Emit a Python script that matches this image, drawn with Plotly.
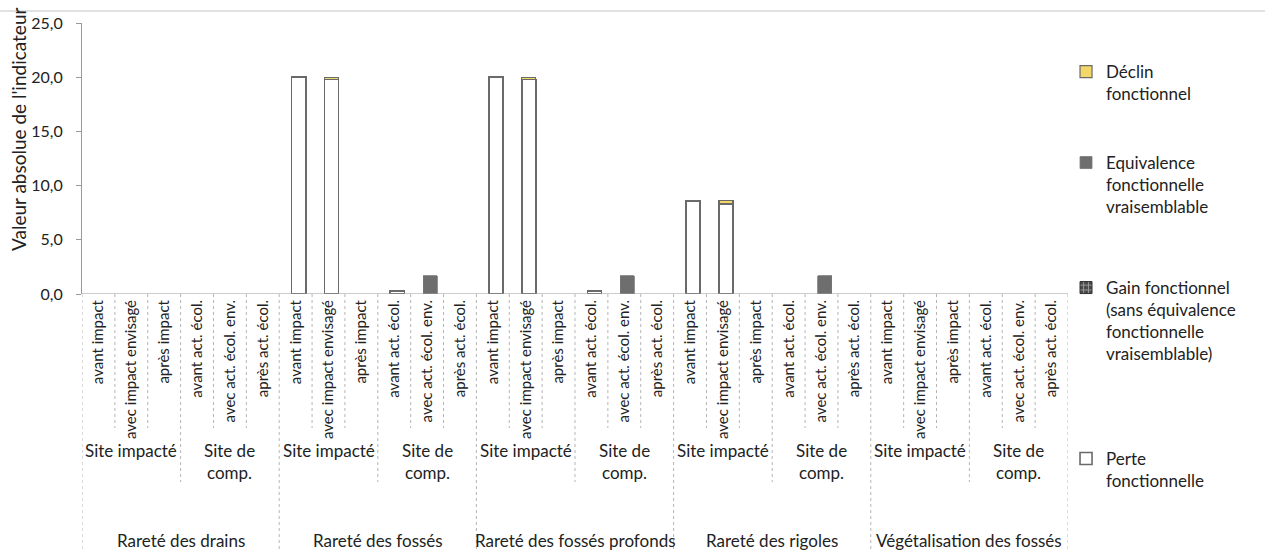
import plotly.graph_objects as go

# --- data -------------------------------------------------------------
groups = ["Rareté des drains", "Rareté des fossés", "Rareté des fossés profonds",
          "Rareté des rigoles", "Végétalisation des fossés"]
subgroups = ["Site impacté", "Site de<br>comp."]
steps_impact = ["avant impact", "avec impact envisagé", "après impact"]
steps_comp = ["avant act. écol.", "avec act. écol. env.", "après act. écol."]

# one row of 6 values per indicator (3 impacted-site steps, 3 compensation-site steps)
perte = [
    [None, None, None, None, None, None],
    [20.0, 19.8, None, 0.3, None, None],
    [20.0, 19.8, None, 0.3, None, None],
    [8.6, 8.3, None, None, None, None],
    [None, None, None, None, None, None],
]
gain = [
    [None] * 6,
    [None] * 6,
    [None] * 6,
    [None] * 6,
    [None] * 6,
]
equivalence = [
    [None, None, None, None, None, None],
    [None, None, None, None, 1.7, None],
    [None, None, None, None, 1.7, None],
    [None, None, None, None, 1.7, None],
    [None, None, None, None, None, None],
]
declin = [
    [None, None, None, None, None, None],
    [None, 0.2, None, None, None, None],
    [None, 0.2, None, None, None, None],
    [None, 0.3, None, None, None, None],
    [None, None, None, None, None, None],
]

y_ticks = [0, 5, 10, 15, 20, 25]

# --- flatten to 30 categories ------------------------------------------
labels = []
for g in groups:
    labels += steps_impact + steps_comp
xs = list(range(len(labels)))


def flat(rows):
    out = []
    for r in rows:
        out += r
    return out


FONT = "Lato, 'Open Sans', sans-serif"
TXT = "#222222"
FS = 17
BAR_W = 0.43
BAR_OFF = -0.12

fig = go.Figure()

fig.add_bar(x=xs, y=flat(perte), name="Perte<br>fonctionnelle",
            width=BAR_W, offset=BAR_OFF, showlegend=True,
            marker=dict(color="white", line=dict(color="#6a6a6a", width=1.6)),
            legend="legend4")
fig.add_bar(x=xs, y=flat(gain), name="Gain fonctionnel<br>(sans équivalence<br>fonctionnelle<br>vraisemblable)",
            width=BAR_W, offset=BAR_OFF, showlegend=True,
            marker=dict(color="#555555", line=dict(color="#333333", width=1),
                        pattern=dict(shape="+", fgcolor="#f2f2f2", bgcolor="#4a4a4a", size=6, solidity=0.35)),
            legend="legend3")
fig.add_bar(x=xs, y=flat(equivalence), name="Equivalence<br>fonctionnelle<br>vraisemblable",
            width=BAR_W, offset=BAR_OFF, showlegend=True,
            marker=dict(color="#6e6e6e", line=dict(color="#777777", width=0.8)),
            legend="legend2")
fig.add_bar(x=xs, y=flat(declin), name="Déclin<br>fonctionnel",
            width=BAR_W, offset=BAR_OFF, showlegend=True,
            marker=dict(color="#f3d768", line=dict(color="#6a6a6a", width=1.2)),
            legend="legend")

# --- category hierarchy below the axis ---------------------------------
PLOT_TOP, PLOT_BOT = 23, 294
PH = PLOT_BOT - PLOT_TOP


def py(px):
    """pixel row -> paper y"""
    return (PLOT_BOT - px) / PH


shapes = []
annotations = []
sep_style = dict(color="#b5b5b5", width=1, dash="dot")
for i in range(len(labels) + 1):
    xb = i - 0.5
    if i % 6 == 0:
        bottom = 551
    elif i % 3 == 0:
        bottom = 482
    else:
        bottom = 428
    shapes.append(dict(type="line", xref="x", yref="paper", x0=xb, x1=xb,
                       y0=0, y1=py(bottom), line=sep_style))

for gi, g in enumerate(groups):
    for si, s in enumerate(subgroups):
        c = gi * 6 + si * 3 + 1
        annotations.append(dict(x=c, y=py(438), xref="x", yref="paper", text=s,
                                showarrow=False, yanchor="top", xanchor="center",
                                font=dict(family=FONT, size=FS, color=TXT)))
    annotations.append(dict(x=gi * 6 + 2.5, y=py(540), xref="x", yref="paper", text=g,
                            showarrow=False, yanchor="middle", xanchor="center",
                            font=dict(family=FONT, size=FS, color=TXT)))

annotations.append(dict(x=(18 - 82) / 986, y=py(130), xref="paper", yref="paper",
                        text="Valeur absolue de l'indicateur", textangle=-90,
                        showarrow=False, xanchor="center", yanchor="middle",
                        font=dict(family=FONT, size=19, color=TXT)))

# faint chart-area border at the very top
shapes.append(dict(type="line", xref="paper", yref="paper", x0=-0.083, x1=1.2,
                   y0=py(11), y1=py(11), line=dict(color="#d8d8d8", width=1.5)))

LX = 0.998
leg_font = dict(family=FONT, size=FS, color=TXT)
leg_common = dict(x=LX, xanchor="left", yanchor="top", font=leg_font,
                  bgcolor="rgba(0,0,0,0)", borderwidth=0, valign="top",
                  itemwidth=30, tracegroupgap=0)

fig.update_layout(
    width=1265, height=551,
    margin=dict(l=82, r=197, t=PLOT_TOP, b=551 - PLOT_BOT, pad=0),
    paper_bgcolor="white", plot_bgcolor="white",
    barmode="stack", separators=", ", showlegend=True,
    font=dict(family=FONT, size=FS, color=TXT),
    xaxis=dict(range=[-0.5, len(labels) - 0.5], tickmode="array", tickvals=xs,
               ticktext=labels, tickangle=-90, showgrid=False, zeroline=False,
               showline=False, ticks="", ticklabelstandoff=2,
               tickfont=dict(family=FONT, size=15, color=TXT)),
    yaxis=dict(range=[0, 25], tickvals=y_ticks, tickformat=".1f", showgrid=False,
               zeroline=False, showline=True, linecolor="#9a9a9a", linewidth=1,
               ticks="outside", ticklen=5, tickcolor="#9a9a9a", ticklabelstandoff=10,
               tickfont=dict(family=FONT, size=16, color=TXT)),
    legend=dict(y=py(54), **leg_common),
    legend2=dict(y=py(145), **leg_common),
    legend3=dict(y=py(270), **leg_common),
    legend4=dict(y=py(441), **leg_common),
    shapes=shapes,
    annotations=annotations,
)

# x-axis baseline at zero
fig.add_shape(type="line", xref="paper", yref="y", x0=0, x1=1, y0=0, y1=0,
              line=dict(color="#9a9a9a", width=1.2))

fig.write_html("out.html")
